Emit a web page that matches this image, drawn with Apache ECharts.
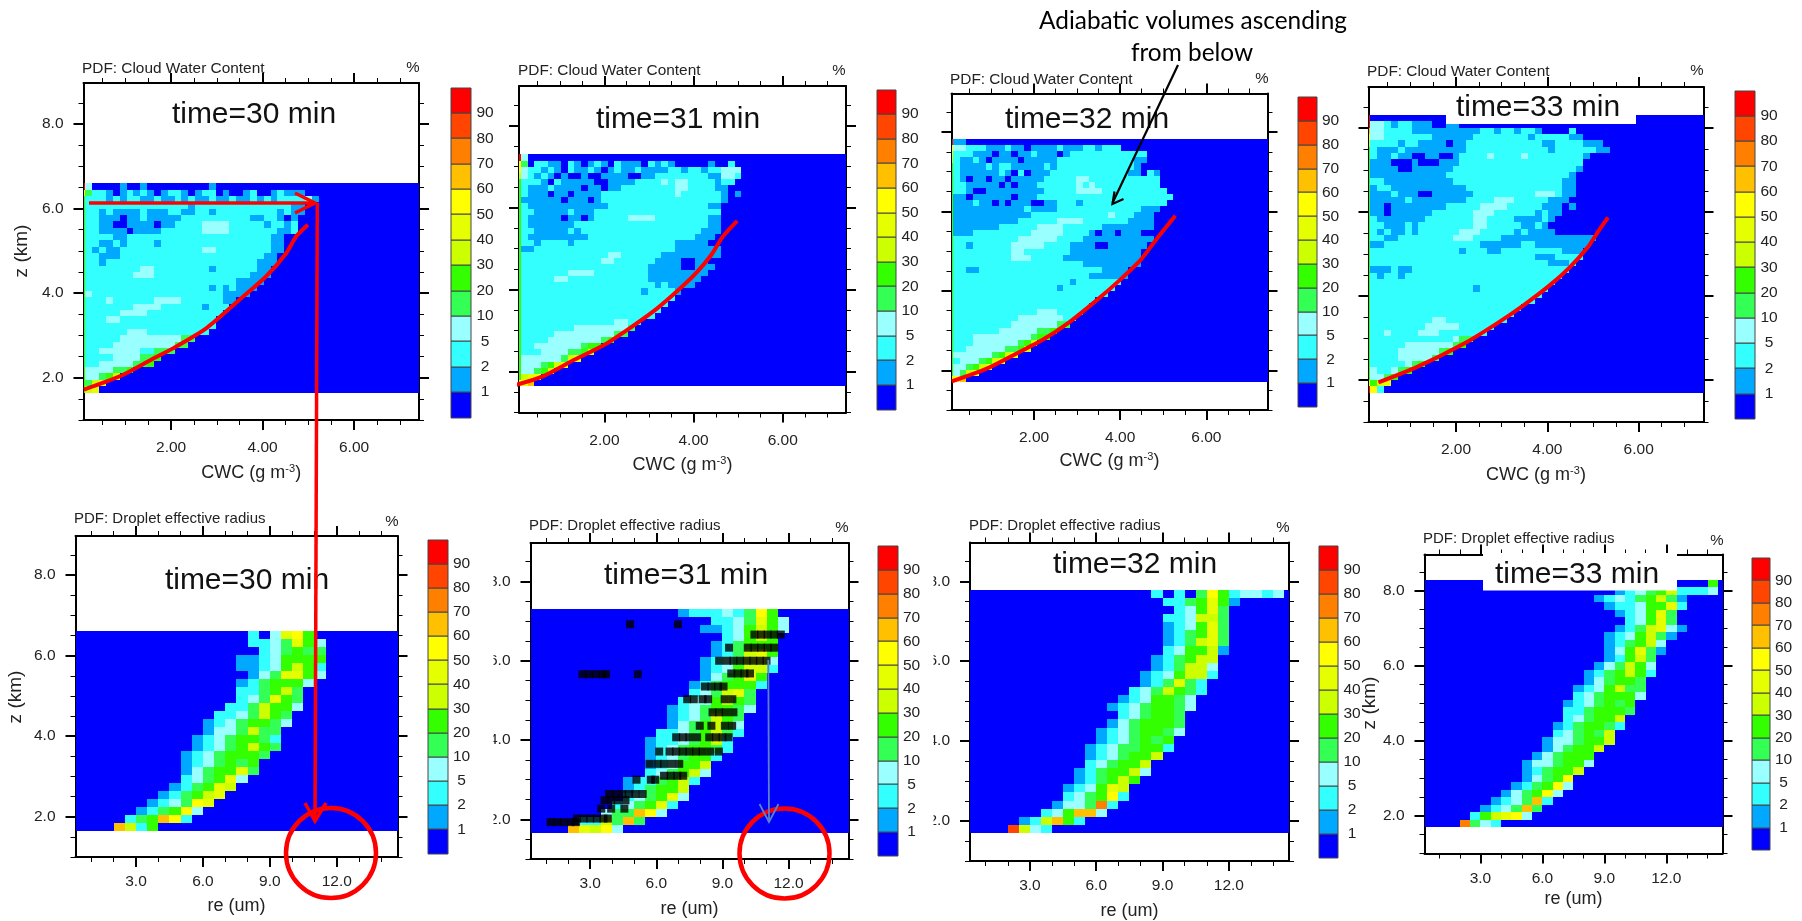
<!DOCTYPE html>
<html>
<head>
<meta charset="utf-8">
<style>html,body{margin:0;padding:0;background:#fff}#c{width:1802px;height:921px}</style>
<script src="https://cdn.jsdelivr.net/npm/echarts@6/dist/echarts.min.js"></script>
</head>
<body>
<div id="c"></div>
<script>
// Colour classes, lowest to highest
const levelColors = ['#0000ff','#00a8ff','#33ffff','#99ffff','#33ff55','#33ff00','#ccff00','#e5ff00','#ffff00','#ffc000','#ff8000','#ff4500','#ff0000'];
const barLabels = ['1','2','5','10','20','30','40','50','60','70','80','90'];
const cwcMajor = [2,4,6];
const cwcMinor = [0.5,1,1.5,2.5,3,3.5,4.5,5,5.5,6.5,7];
const reMajor = [3,6,9,12];
const reMinor = [1,2,4,5,7,8,10,11,13,14];
const zMajor = [2,4,6,8];
const zMinor = [1,1.5,2.5,3,3.5,4.5,5,5.5,6.5,7,7.5,8.5];
const zRange = [1,8.97];
const cwcRange = [0.083,7.42];
const reRange = [0.29,14.72];

// Cloud water content PDF: rows from the cloud base upward; first character is the thin left sliver
const cwc30 = ["567","5467","533456","53333445","52233333445","522223333445","52233333322444","5222233333333344","52222233333333344","5222222333222222222","52222222222222222222","52223322222222222222","522222333322222222222","5222222233332222221222","52223222222333322222211","5322222222222222222221111","52222222222222222221212111","522222222222222222222221111","5222222233322222222222222111","5222222223322222222122222211","52212222222222222222222222111","52211122222222222222222222211","5212112222222222223322222222110","522112122221222222222222222211","5222211222222222222222222222110","52211110111122222233332222222112","522110011110112222333322222122120","5221110112111112222222222112210100","522121111211122112212222222221211","5222222222222222122222222222222110","52221212211211212112112112121222231","8422101212101221012201001200121110","c3000010010000000001000000000"];
const cwc31 = ["879","5678","533456","53334567","5333333467","522233334456","5223333333455","522223333333345","52222233333333344","522222222333333334","5222222222222223322","522222222222222222222","5222222222222222222222","52222222222222222222222","522222222222222222222222","5222222222222222222122221","522222222222222222222121111","5222223322222222222211111111","52222222333322222222111111111","522222222222222222221111100111","522222222222233222222111100110","5222222222222233222222111111111","5112222222222222222222221111111","522122221222222222222222111110","5211111111122222222222222221110","5221111121222222222222222222111","5211111112222222222222222222211","5211111011012222233332222222211","5221111121112222222222222222222","5211111111111122222222222222211","51111110111012222222222222222221","5211101101111222222222223222222101","52111211110110112222222233222211","522210211111001111222232332222122","6321210100100111100112222222211332","8322121021121012112111122122122333","8402211021012102111021210000010020","c3"];
const cwc32 = ["789","53468","5334567","523334567","53333334567","5223333334456","52223333333456","5222333333333455","52222222333333445","5222222222333333344","52222222222333333322","522222222222223332222","5222222222222222222222","52222222222222222222222","5222222222222222222222222","52222222222222222122222222","522222222222222222212222222","5222222222222222222222111111","5221122222222222222222221111","522222222222222222222111111111","522222222233322222111111111111","522222222233222222211111111111","5221222222333332222111100111111","52222222222333333222211111111111","511122222222233333222210110111","51111111222222333322222211111111","51111111111222222333322222221111","51111111111112222222222223222111","511111111111211112222222222222111","5111211010111001122212222222222222","51101111110111222222222222222222222","5221001111111112222233332222222222","522111110101112222223232222222222","521011011011111222223322222222222","521111112102011122222222222211021","5211112122111112122222222222210","6211210111101111122222222222211","7222111011011211101222222222222","8332221112110111121112212220","c11"];
const cwc33 = ["c82","8567","53345","5322345","522222345","52222333334","5222233333345","522222333333345","5222222222222344","522322223332222222","5222222223333322222","522222222233222222222","5222222222222222222222","52222222222222222222222","5222222222222222222222222","52222222222222222222222222","522222222222222212222222222","5222222222222222222222222222","52122122222222222222222222222","511121122222222222222222222222","5222222222222222222222222221112","52222222222222222222222221112222","52222222222222122211222222222111","511222222222222221111112211111111","5221122222222333222211111111111111","5212112122222233322222121111","5221112122222222332222211210","52111111122222223322221111210","51101111112222223332222221211","5110111111112222233332222211101","5111112111111112222333222221110","5111211100111111222222222333211","5122111111111112222222222222211","5221111111111222222222222222211","5111111111112222222222222222221","51111001111112222222222222222221","51110001000111222222222222222222","521121100110012222322223222222221","521112111111111222222222222122222211","622221221111011222222222221122221110","83322222221111112222222212222211","9332222111111111122122122100002","c3321221110011","c"];

// Droplet effective radius PDF: rows upward, each [first re of the run, levels]
const re30 = [[2,"9625"],[2.5,"245982"],[3,"124583"],[3.5,"123487"],[4,"124567"],[4.5,"124576"],[5,"234573"],[5,"1345574"],[5,"1234545"],[5,"12345554"],[5.5,"12345654"],[5.5,"12345542"],[6,"1334644"],[6,"12345543"],[6.5,"2234654"],[7,"2246553"],[7.5,"234754"],[7.5,"224564"],[7.5,"1245553"],[8,"1347753"],[7.5,"11235652"],[7.5,"11235555"],[8.5,"234544"],[8,"2234753"],[8,"203785"]];
const re31 = [[2,"97683"],[2.5,"226494"],[3.5,"344983"],[4,"234572"],[4.5,"234573"],[4.5,"124556"],[4.5,"1224562"],[5.5,"234563"],[5.5,"123556"],[5.5,"1234552"],[5.5,"12345542"],[5.5,"12234562"],[6,"22345642"],[6.5,"1345653"],[6.5,"1234654"],[6.5,"12345543"],[7,"2335654"],[7.5,"234674"],[7.5,"1245552"],[8,"134575"],[8,"1235662"],[8,"1234663"],[8.5,"124675"],[8.5,"124555"],[9,"23565"],[8,"11235653"],[8.5,"2234753"],[7,"122232485"]];
const re32 = [[2,"b632"],[2.5,"126952"],[3.5,"235993"],[4,"1334a2"],[4.5,"234582"],[4.5,"123576"],[5,"124565"],[5,"1245563"],[5.5,"234556"],[5.5,"1234556"],[5.5,"12344552"],[6,"1234545"],[6,"12345543"],[6.5,"1345554"],[7,"234554"],[6.5,"12345543"],[7,"1235543"],[7.5,"2346542"],[8,"124742"],[8,"1235662"],[8.5,"124663"],[8.5,"124566"],[9,"235561"],[9,"124674"],[9,"124574"],[9,"123574"],[9,"223664"],[9.5,"23574"],[9,"2245751"],[8.5,"202048523323"]];
const re33 = [[2,"a432"],[2.5,"256783"],[3,"123494"],[3.5,"123492"],[4,"134583"],[4.5,"124583"],[5,"13458"],[5,"124556"],[5,"1334553"],[5.5,"134555"],[6,"134556"],[6,"1334556"],[6.5,"234546"],[6.5,"1245542"],[7,"234556"],[7,"2245554"],[7,"1234545"],[7.5,"2345553"],[7.5,"1235644"],[8,"134554"],[8,"1245652"],[8.5,"134653"],[9,"12564"],[9,"135741"],[9,"124563"],[9,"1235641"],[9.5,"1246731"],[10,"23574"],[9.5,"123574"],[9,"12235572"],[8.5,"123245641"],[9.5,"1234562223"],[14,"5"]];

// Adiabatic curves [CWC, z]
const adiabat30 = [[0.09,1.72],[0.89,2.04],[1.62,2.46],[2.05,2.7],[2.78,3.18],[3.5,3.85],[4.08,4.4],[4.52,4.95],[4.74,5.35],[4.99,5.62]];
const adiabat31 = [[0,1.67],[0.63,1.89],[1.31,2.28],[1.98,2.64],[2.57,3.06],[3.17,3.53],[3.69,4.02],[4.07,4.42],[4.4,4.85],[4.66,5.3],[4.98,5.68]];
const adiabat32 = [[0.09,1.72],[0.9,2.04],[1.52,2.38],[2.22,2.78],[2.83,3.22],[3.45,3.76],[3.99,4.27],[4.46,4.76],[4.84,5.3],[5.28,5.89]];
const adiabat33 = [[0.3,1.94],[1.15,2.31],[2.17,2.86],[2.89,3.34],[3.47,3.77],[4.05,4.25],[4.49,4.68],[4.88,5.15],[5.1,5.51],[5.33,5.87]];

// Measured droplets at 31 min, by height: [z, [re...]]
const measured31 = [[6.92,[4.81,6.98]],[6.66,[10.45,10.75,11.05,11.35,11.65]],[6.33,[9.3,10.15,10.45,10.75,11.05,11.35]],[6.0,[8.85,9.2,9.5,9.8,10.1,10.4,10.7,11.0]],[5.68,[9.4,9.7,10.0,10.25]],[5.66,[2.65,2.95,3.25,3.55,3.72,5.16]],[5.35,[8.2,8.5,8.8,9.05]],[5.03,[7.4,7.7,8.1,8.35,9.1,9.45]],[4.7,[8.55,8.85,9.15,9.5]],[4.36,[7.97,8.5,9.11,9.44]],[4.07,[6.9,7.2,7.5,7.85,8.4,8.7,9.0,9.28]],[3.71,[6.13,6.6,6.9,7.2,7.5,7.8,8.1,8.45,8.84]],[3.4,[5.69,6.05,6.35,6.7,7.04]],[3.1,[6.35,6.65,6.95,7.22]],[3.0,[5.1,5.75,5.95]],[2.64,[3.85,4.15,4.45,4.75,5.05,5.38]],[2.48,[3.65,3.95,4.25,4.6]],[2.27,[3.5,3.95,4.55]],[2.02,[2.4,2.7,3.0,3.3,3.6,3.8]],[1.93,[1.2,1.5,1.8,2.1,2.35]]];

const panels = [
 {g:[83.5,83,335.5,337],bar:[451,87.5,20,330],cells:cwc30,adiabat:adiabat30,kind:'cwc',base:1.65,top:6.6,yl:true,title:'PDF: Cloud Water Content',tp:[82,68.5],pc:[413,68],time:'time=30 min',tc:[254,115],gap:43},
 {g:[519,86,327,326.5],bar:[876.5,89.5,19.5,320],cells:cwc31,adiabat:adiabat31,kind:'cwc',base:1.65,top:7.3,yl:false,title:'PDF: Cloud Water Content',tp:[518,71],pc:[839,71],time:'time=31 min',tc:[678,120],gap:43},
 {g:[951.5,93.5,316,316.5],bar:[1297.5,97,19,310],cells:cwc32,adiabat:adiabat32,kind:'cwc',base:1.7,top:7.82,yl:false,title:'PDF: Cloud Water Content',tp:[950,79.5],pc:[1262,79],time:'time=32 min',tc:[1087,120],gap:41},
 {g:[1368.5,87,335,335],bar:[1735,90.5,20,328.5],cells:cwc33,adiabat:adiabat33,kind:'cwc',base:1.7,top:8.3,yl:false,title:'PDF: Cloud Water Content',tp:[1367,71.5],pc:[1697,71],time:'time=33 min',tc:[1538,108],gap:43},
 {g:[75.5,536,322,321],bar:[428,539.5,19.5,314],cells:re30,kind:'re',base:1.65,top:6.6,yl:true,title:'PDF: Droplet effective radius',tp:[74,518.5],pc:[392,522],time:'time=30 min',tc:[247,581],gap:40},
 {g:[530.5,543,318,316],bar:[878,546,19.5,310],cells:re31,kind:'re',base:1.65,top:7.31,yl:true,title:'PDF: Droplet effective radius',tp:[529,525.5],pc:[842,528],time:'time=31 min',tc:[686,576],gap:41},
 {g:[970,542.5,319,319],bar:[1319,546,19,312],cells:re32,kind:'re',base:1.7,top:7.79,yl:true,title:'PDF: Droplet effective radius',tp:[969,525.5],pc:[1283,528],time:'time=32 min',tc:[1135,565],gap:41},
 {g:[1424.5,554.5,298,299],bar:[1751.5,558,18,292],cells:re33,kind:'re',base:1.7,top:8.3,yl:true,title:'PDF: Droplet effective radius',tp:[1423,538.5],pc:[1717,541],time:'time=33 min',tc:[1577,575],gap:37}
];

const FONT = '"Liberation Sans", Arial, sans-serif';
const DARK = '#222';
const grid=[], xAxis=[], yAxis=[], series=[], graphic=[];

function toCells(p){
  const out=[];
  const rng = p.kind==='cwc'?cwcRange:reRange;
  out.push([rng[0],rng[1],p.base,p.top,0]);
  const dz=(p.top-p.base)/p.cells.length;
  p.cells.forEach((row,r)=>{
    const z0=p.base+r*dz, z1=z0+dz;
    if(p.kind==='cwc'){
      [...row].forEach((ch,j)=>{
        const lv=parseInt(ch,16);
        if(!lv) return;
        const a=j===0?rng[0]:0.125+(j-1)*0.15, b=j===0?0.125:a+0.15;
        out.push([a,b,z0,z1,lv]);
      });
    } else {
      [...row[1]].forEach((ch,j)=>{
        const lv=parseInt(ch,16);
        if(!lv) return;
        const a=row[0]+j*0.5;
        out.push([a,Math.min(a+0.5,rng[1]),z0,z1,lv]);
      });
    }
  });
  return out;
}
function rectItem(params,api,stroke){
  const a=api.coord([api.value(0),api.value(2)]), b=api.coord([api.value(1),api.value(3)]);
  const x0=Math.round(a[0]),x1=Math.round(b[0]),y0=Math.round(b[1]),y1=Math.round(a[1]);
  return {type:'rect',shape:{x:x0,y:y0,width:x1-x0,height:y1-y0},
    style:{fill:levelColors[api.value(4)],stroke:stroke||null,lineWidth:stroke?1:0}};
}
panels.forEach((p,i)=>{
  const isC=p.kind==='cwc';
  const major=isC?cwcMajor:reMajor, minor=isC?cwcMinor:reMinor, rng=isC?cwcRange:reRange;
  const gi=i*2, xb=xAxis.length, yb=yAxis.length;
  grid.push({left:p.g[0],top:p.g[1],width:p.g[2],height:p.g[3]});
  grid.push({left:p.bar[0],top:p.bar[1],width:p.bar[2],height:p.bar[3]});
  const line={show:true,onZero:false,lineStyle:{color:'#000',width:2}};
  const off={show:false};
  const ax=(pos,vals,len,labels,withLine,extra)=>Object.assign({
    type:'value',gridIndex:gi,position:pos,min:0,max:1,scale:true,
    splitLine:off,axisLine:withLine?line:off,
    axisTick:{show:true,inside:false,length:len,customValues:vals,lineStyle:{color:'#000',width:len>6?2:1}},
    axisLabel:labels?{show:true,customValues:vals,color:DARK,fontFamily:FONT,fontSize:15.5,margin:(!isC&&pos==='bottom')?17:20,
      formatter:v=>v.toFixed(isC&&pos==='bottom'?2:1)}:{show:false}
  },extra);
  const xr={min:rng[0],max:rng[1]}, yr={min:zRange[0],max:zRange[1]};
  const names=isC?{rich:{a:{fontFamily:FONT,fontSize:18,color:DARK},s:{fontFamily:FONT,fontSize:11,color:DARK,padding:[0,0,9,0]}}}:{fontFamily:FONT,fontSize:18,color:DARK};
  xAxis.push(ax('bottom',major,10,true,true,Object.assign({},xr,{name:isC?'{a|CWC (g m}{s|-3}{a|)}':'re (um)',nameLocation:'middle',nameGap:p.gap,nameTextStyle:names})));
  xAxis.push(ax('bottom',minor,5,false,false,xr));
  xAxis.push(ax('top',major,10,false,true,xr));
  xAxis.push(ax('top',minor,5,false,false,xr));
  yAxis.push(ax('left',zMajor,10,p.yl,true,yr));
  yAxis.push(ax('left',zMinor,5,false,false,yr));
  yAxis.push(ax('right',zMajor,10,false,true,yr));
  yAxis.push(ax('right',zMinor,5,false,false,yr));
  // colour bar
  xAxis.push({type:'value',gridIndex:gi+1,min:0,max:1,show:false});
  yAxis.push({type:'value',gridIndex:gi+1,position:'right',min:0,max:13,splitLine:off,axisLine:off,axisTick:off,
    axisLabel:{show:true,customValues:barLabels.map((_,k)=>k+1),align:'center',margin:14,color:DARK,fontFamily:FONT,fontSize:15.5,formatter:v=>barLabels[v-1]}});
  series.push({type:'custom',coordinateSystem:'cartesian2d',xAxisIndex:xb,yAxisIndex:yb,clip:true,silent:true,z:2,progressive:0,
    data:toCells(p),encode:{x:[0,1],y:[2,3]},renderItem:(pr,api)=>rectItem(pr,api)});
  series.push({type:'custom',coordinateSystem:'cartesian2d',xAxisIndex:xb+4,yAxisIndex:yb+4,silent:true,z:2,
    data:levelColors.map((_,k)=>[0,1,k,k+1,k]),encode:{x:[0,1],y:[2,3]},renderItem:(pr,api)=>rectItem(pr,api,'#444')});
  if(p.adiabat){
    series.push({type:'line',xAxisIndex:xb,yAxisIndex:yb,data:p.adiabat,smooth:0.25,showSymbol:false,clip:false,silent:true,z:6,
      lineStyle:{color:'#ff0000',width:4}});
  }
  if(i===5){
    const pts=[];
    measured31.forEach(r=>r[1].forEach(v=>pts.push([v,r[0]])));
    series.push({type:'scatter',xAxisIndex:xb,yAxisIndex:yb,data:pts,symbol:'rect',symbolSize:8,silent:true,z:5,itemStyle:{color:'#000'}});
  }
  const t=(x,y,text,o)=>graphic.push(Object.assign({type:'text',x,y,z:50,style:Object.assign({text,fontFamily:FONT,fill:DARK,verticalAlign:'middle'},o)}));
  t(p.tp[0],p.tp[1],p.title,{fontSize:i<4?15.4:15,align:'left'});
  t(p.pc[0],p.pc[1],'%',{fontSize:15,align:'center'});
  if(i===3) graphic.push({type:'rect',z:40,shape:{x:1446,y:88,width:190,height:36},style:{fill:'#fff'}});
  if(i===7) graphic.push({type:'rect',z:40,shape:{x:1483,y:553,width:194,height:37.5},style:{fill:'#fff'}});
  t(p.tc[0],p.tc[1],p.time,{fontSize:30,align:'center',fill:'#111'});
});
// y-axis titles
[[22,251],[16,697],[1370,703]].forEach(c=>graphic.push({type:'text',x:c[0],y:c[1],rotation:Math.PI/2,z:50,
  style:{text:'z (km)',fontFamily:FONT,fontSize:19,fill:DARK,align:'center',verticalAlign:'middle'}}));
// labels trimmed by the neighbouring panels
graphic.push({type:'rect',z:60,shape:{x:486,y:570,width:7.5,height:262},style:{fill:'#fff'}});
graphic.push({type:'rect',z:60,shape:{x:926,y:570,width:7.5,height:262},style:{fill:'#fff'}});
// annotations
const pl=(pts,color,w)=>graphic.push({type:'polyline',z:70,shape:{points:pts},style:{stroke:color,lineWidth:w,fill:null}});
pl([[89,203],[315,203]],'#ff0000',3.5);
pl([[295,193],[315,203],[295,213]],'#ff0000',3.5);
pl([[317.3,203],[315,820]],'#ff0000',3.5);
pl([[305,803],[315,821],[326,803]],'#ff0000',3.5);
graphic.push({type:'circle',z:70,shape:{cx:331,cy:853,r:45},style:{stroke:'#ff0000',lineWidth:4.5,fill:null}});
graphic.push({type:'circle',z:70,shape:{cx:784.5,cy:853.5,r:45},style:{stroke:'#ff0000',lineWidth:4.5,fill:null}});
pl([[768.3,660],[769,821]],'#5b80c4',1.8);
pl([[759.5,804],[769,822],[778.5,804]],'#5b80c4',1.8);
pl([[1178,65],[1112.5,203]],'#000',2.2);
pl([[1114.5,191.5],[1112.5,204],[1123.5,199]],'#000',2.2);
[['Adiabatic volumes ascending',1193,21],['from below',1192,53]].forEach(a=>graphic.push({type:'text',x:a[1],y:a[2],z:80,
  style:{text:a[0],fontFamily:'Lato, "Open Sans", sans-serif',fontSize:24.4,fill:'#000',align:'center',verticalAlign:'middle'}}));

const chart=echarts.init(document.getElementById('c'),null,{renderer:'canvas'});
chart.setOption({animation:false,backgroundColor:'#fff',grid,xAxis,yAxis,series,graphic});
</script>
</body>
</html>
